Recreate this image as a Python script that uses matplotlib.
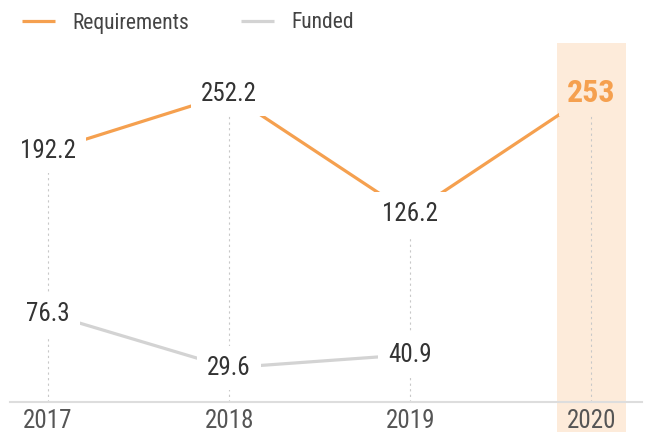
import matplotlib
matplotlib.use("Agg")
import matplotlib.pyplot as plt

# data
years = ["2017", "2018", "2019", "2020"]
requirements = [192.2, 252.2, 126.2, 253]
funded = [76.3, 29.6, 40.9]
req_labels = ["192.2", "252.2", "126.2", "253"]
fund_labels = ["76.3", "29.6", "40.9"]

ORANGE = "#F5A04F"
GREY = "#D3D3D3"
BAND = "#FDEBDA"
TEXT = "#333333"

plt.rcParams["font.family"] = ["Roboto Condensed", "Liberation Sans Narrow", "Roboto", "DejaVu Sans"]

fig = plt.figure(figsize=(6.48, 4.32), dpi=100)
ax = fig.add_axes([10 / 648, 1 - 402 / 432, 632 / 648, 359 / 432])
ax2 = ax.twinx()
# funded axis on top so its labels hide the drop lines
ax.set_zorder(ax2.get_zorder() + 1)
ax.patch.set_visible(False)

x = list(range(len(years)))
xr = x[:len(requirements)]
xf = x[:len(funded)]

ax.set_xlim(-0.21, 3.28)
ax.set_ylim(0, 310)
ax2.set_ylim(-72, 306)

# highlighted latest year
ax2.axvspan(x[-1] - 0.19, x[-1] + 0.19, ymin=-0.1, ymax=1, color=BAND,
            lw=0, zorder=0, clip_on=False)

# drop lines
ax2.vlines(xr, -72, requirements, colors="#C8C8C8", linestyles=(0, (2, 3)),
           lw=0.8, zorder=1)

ax2.plot(xr, requirements, color=ORANGE, lw=2.3, zorder=2, label="Requirements",
         solid_capstyle="butt")
for i, (xi, v) in enumerate(zip(xr, requirements)):
    last = i == len(requirements) - 1
    ax2.text(xi, v, req_labels[i], ha="center", va="center",
             fontsize=23 if last else 18,
             fontweight="bold" if last else "normal",
             color=ORANGE if last else TEXT, zorder=3,
             bbox=dict(boxstyle="square,pad=0.25" if last else "square,pad=0.4",
                       fc=BAND if last else "white", ec="none"))

ax.plot(xf, funded, color=GREY, lw=2.3, zorder=2, label="Funded",
        solid_capstyle="butt")
for xi, v, lab in zip(xf, funded, fund_labels):
    ax.text(xi, v, lab, ha="center", va="center", fontsize=18, color=TEXT,
            zorder=3, bbox=dict(boxstyle="square,pad=0.4", fc="white", ec="none"))

ax.set_xticks(x)
ax.set_xticklabels(years, fontsize=18, color="#555555")
ax.tick_params(axis="x", length=0, pad=5)
ax.set_yticks([])
ax2.set_yticks([])
for a in (ax, ax2):
    for s in ("top", "left", "right"):
        a.spines[s].set_visible(False)
ax2.spines["bottom"].set_visible(False)
ax.spines["bottom"].set_color("#DDDDDD")
ax.spines["bottom"].set_linewidth(1.5)

h1, l1 = ax2.get_legend_handles_labels()
h2, l2 = ax.get_legend_handles_labels()
leg = fig.legend(h1 + h2, l1 + l2, loc="center left", bbox_to_anchor=(22 / 648, 1 - 23 / 432),
                 ncol=2, frameon=False, fontsize=15.5, handlelength=1.55,
                 handletextpad=0.8, columnspacing=2.4, borderaxespad=0, borderpad=0)
for t in leg.get_texts():
    t.set_color("#444444")

fig.savefig("out.png", dpi=100)
